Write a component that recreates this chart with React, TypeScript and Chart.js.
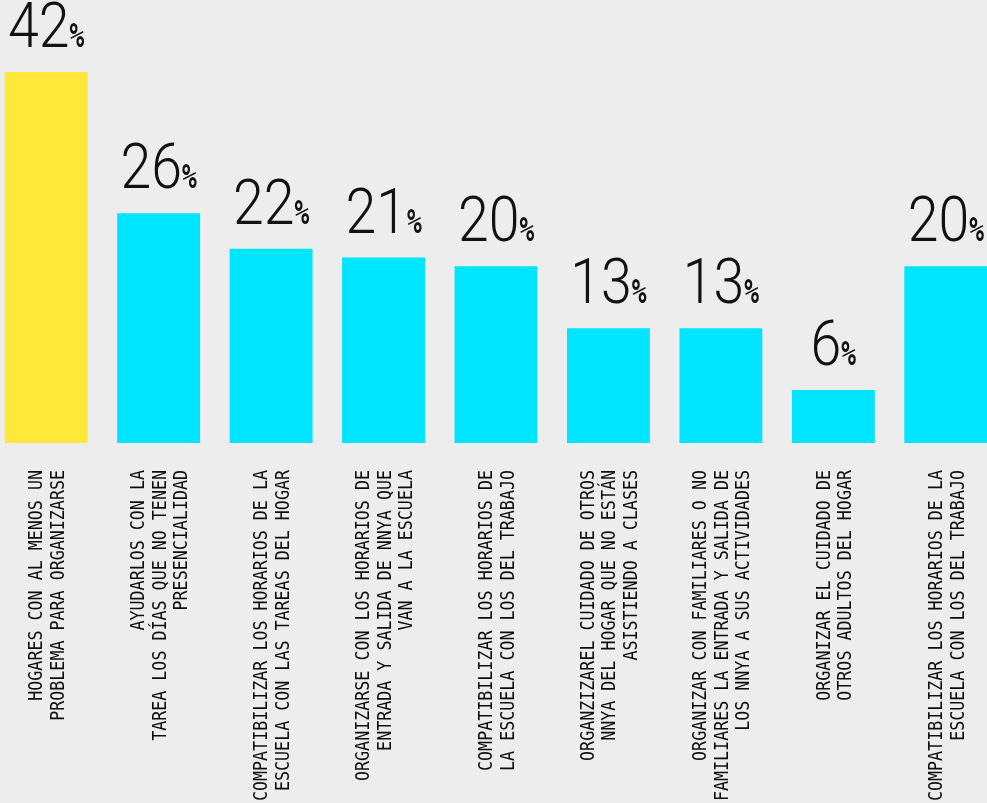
import React, { useEffect, useRef } from "react";
import { Chart, registerables } from "chart.js";

Chart.register(...registerables);

const categories: string[][] = [
  ["HOGARES CON AL MENOS UN", "PROBLEMA PARA ORGANIZARSE"],
  ["AYUDARLOS CON LA", "TAREA LOS DÍAS QUE NO TENEN", "PRESENCIALIDAD"],
  ["COMPATIBILIZAR LOS HORARIOS DE LA", "ESCUELA CON LAS TAREAS DEL HOGAR"],
  ["ORGANIZARSE CON LOS HORARIOS DE", "ENTRADA Y SALIDA DE NNYA QUE", "VAN A LA ESCUELA"],
  ["COMPATIBILIZAR LOS HORARIOS DE", "LA ESCUELA CON LOS DEL TRABAJO"],
  ["ORGANZIZAREL CUIDADO DE OTROS", "NNYA DEL HOGAR QUE NO ESTÁN", "ASISTIENDO A CLASES"],
  ["ORGANIZAR CON FAMILIARES O NO", "FAMILIARES LA ENTRADA Y SALIDA DE", "LOS NNYA A SUS ACTIVIDADES"],
  ["ORGANIZAR EL CUIDADO DE", "OTROS ADULTOS DEL HOGAR"],
  ["COMPATIBILIZAR LOS HORARIOS DE LA", "ESCUELA CON LOS DEL TRABAJO"],
];

const values: number[] = [42, 26, 22, 21, 20, 13, 13, 6, 20];

const YELLOW = "#FFE83A";
const CYAN = "#00E5FF";
const BG = "#ededed";

const bgPlugin = {
  id: "bgFill",
  beforeDraw(chart: any) {
    const { ctx, width, height } = chart;
    ctx.save();
    ctx.fillStyle = BG;
    ctx.fillRect(0, 0, width, height);
    ctx.restore();
  },
};

const valueLabelPlugin = {
  id: "valueLabels",
  afterDatasetsDraw(chart: any) {
    const ctx = chart.ctx;
    const meta = chart.getDatasetMeta(0);
    const data = chart.data.datasets[0].data as number[];
    meta.data.forEach((bar: any, i: number) => {
      const numStr = String(data[i]);
      const numFont = '300 63px Roboto, "DejaVu Sans", sans-serif';
      const numSx = 0.88;
      const pctFont = 'bold 34px "DejaVu Sans Mono", monospace';
      const pctSx = 0.72;
      ctx.save();
      ctx.font = numFont;
      const numW = ctx.measureText(numStr).width * numSx;
      ctx.font = pctFont;
      const pctW = ctx.measureText("%").width * pctSx;
      const total = numW + pctW;
      const left = bar.x - total / 2;
      const base = bar.y - 25;
      ctx.fillStyle = "#111111";
      ctx.textBaseline = "alphabetic";
      ctx.textAlign = "left";
      ctx.save();
      ctx.translate(left, base);
      ctx.scale(numSx, 1);
      ctx.font = numFont;
      ctx.fillText(numStr, 0, 0);
      ctx.restore();
      ctx.save();
      ctx.translate(left + numW, base);
      ctx.scale(pctSx, 1);
      ctx.font = pctFont;
      ctx.fillText("%", 0, 0);
      ctx.restore();
      ctx.restore();
    });
  },
};

const categoryLabelPlugin = {
  id: "categoryLabels",
  afterDraw(chart: any) {
    const ctx = chart.ctx;
    const xs = chart.scales.x;
    const labels = chart.data.labels as string[][];
    const lh = 21.5;
    const capHalf = 7;
    const top = chart.chartArea.bottom + 27;
    ctx.save();
    ctx.fillStyle = "#0d0d0d";
    ctx.font = '19px "DejaVu Sans Mono", monospace';
    ctx.textAlign = "right";
    ctx.textBaseline = "alphabetic";
    labels.forEach((lines, i) => {
      const x = xs.getPixelForValue(i);
      ctx.save();
      ctx.translate(x, top);
      ctx.rotate(-Math.PI / 2);
      ctx.scale(0.877, 1);
      lines.forEach((ln, j) => {
        const c = (j - (lines.length - 1) / 2) * lh;
        ctx.fillText(ln, 0, c + capHalf);
      });
      ctx.restore();
    });
    ctx.restore();
  },
};

export default function App() {
  const canvasRef = useRef<HTMLCanvasElement | null>(null);

  useEffect(() => {
    document.body.style.margin = "0";
    document.body.style.background = BG;
    const canvas = canvasRef.current;
    if (!canvas) return;
    const chart = new Chart(canvas, {
      type: "bar",
      data: {
        labels: categories as any,
        datasets: [
          {
            data: values,
            backgroundColor: values.map((_, i) => (i === 0 ? YELLOW : CYAN)),
            borderWidth: 0,
            barPercentage: 0.737,
            categoryPercentage: 1,
          },
        ],
      },
      options: {
        responsive: false,
        animation: false,
        devicePixelRatio: 1,
        layout: { padding: { top: 72, bottom: 360, left: 0, right: 0 } },
        plugins: {
          legend: { display: false },
          tooltip: { enabled: false },
        },
        scales: {
          x: { type: "category", display: false, offset: true },
          y: { display: false, min: 0, max: 42 },
        },
      },
      plugins: [bgPlugin, valueLabelPlugin, categoryLabelPlugin],
    });
    return () => chart.destroy();
  }, []);

  return (
    <div style={{ width: 987, height: 803, overflow: "hidden", background: BG, position: "relative" }}>
      <div style={{ position: "absolute", left: -10, top: 0, width: 1012, height: 803 }}>
        <canvas ref={canvasRef} width={1012} height={803} style={{ width: 1012, height: 803, display: "block" }} />
      </div>
    </div>
  );
}
